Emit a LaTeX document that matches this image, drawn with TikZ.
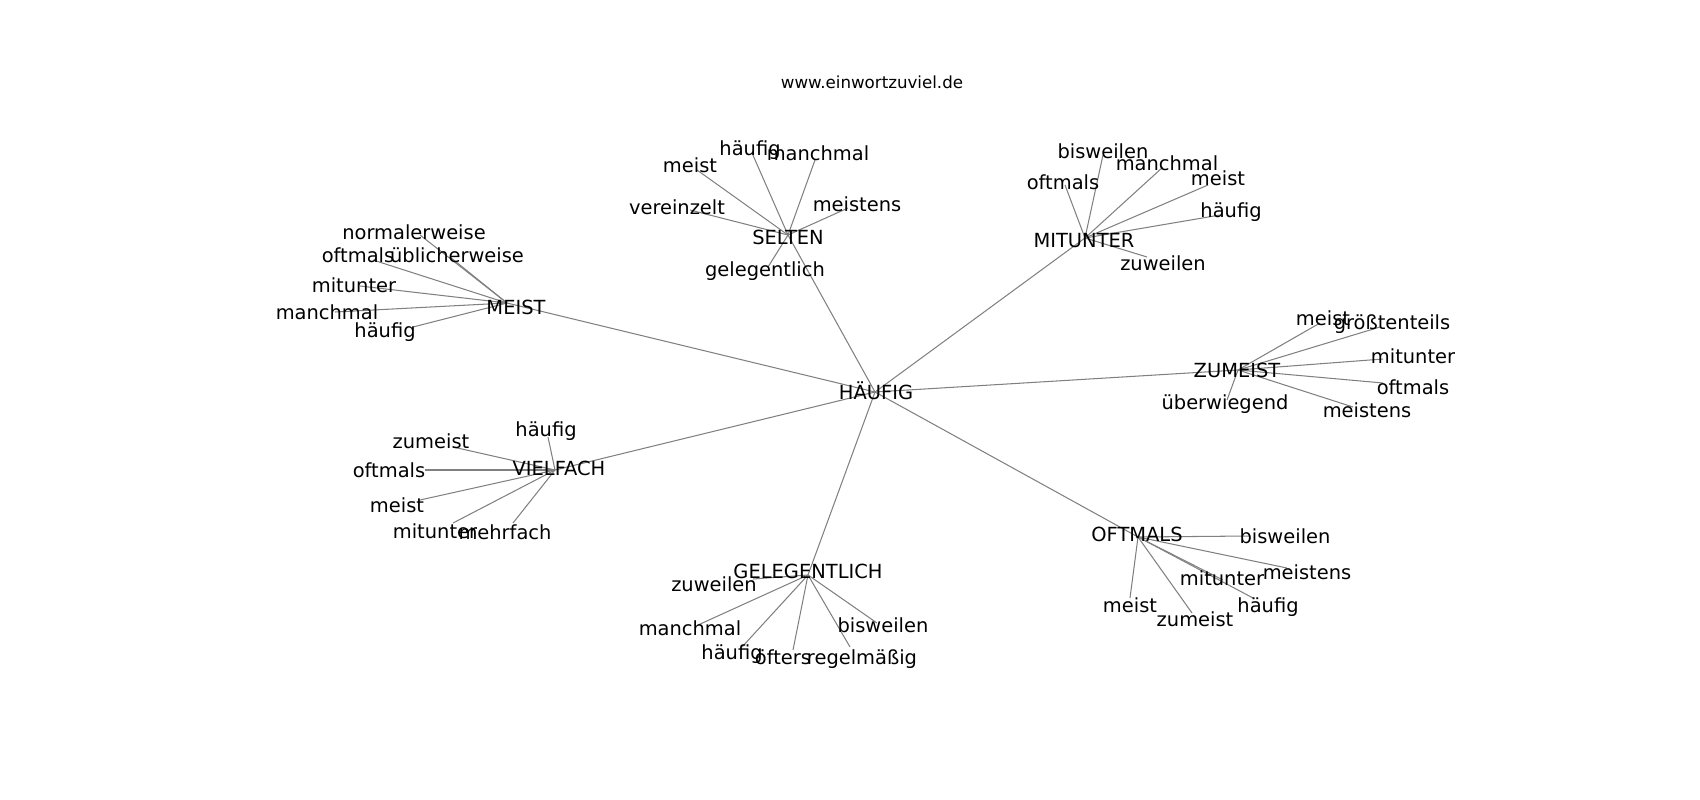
\documentclass[tikz,border=0pt]{standalone}
\usepackage{fontspec}
\setmainfont{DejaVu Sans}
\begin{document}
\begin{tikzpicture}[x=0.72bp,y=-0.72bp,
  lbl/.style={font=\fontsize{14bp}{17bp}\selectfont, inner sep=0pt, text height=10.6bp, text depth=3.2bp, anchor=center, yshift=-1.8bp},
  ttl/.style={font=\fontsize{12bp}{14bp}\selectfont, inner sep=0pt, anchor=center},
  edge/.style={draw=black!50, line width=0.75bp}]
\useasboundingbox (0,0) rectangle (1700,800);
\node[ttl] (title) at (872,82) {www.einwortzuviel.de};
% hubs
\coordinate (h) at (875,392);
\coordinate (m) at (507,303);
\coordinate (s) at (788,235);
\coordinate (mi) at (1085,238);
\coordinate (z) at (1238,370);
\coordinate (o) at (1138,537);
\coordinate (g) at (808,575);
\coordinate (v) at (555,470);
% leaf end points
\coordinate (m1) at (420,235); \coordinate (m2) at (450,257); \coordinate (m3) at (373,260);
\coordinate (m4) at (360,286); \coordinate (m5) at (335,312); \coordinate (m6) at (413,327);
\coordinate (s1) at (752,153); \coordinate (s2) at (815,160); \coordinate (s3) at (697,170);
\coordinate (s4) at (690,210); \coordinate (s5) at (848,208); \coordinate (s6) at (768,267);
\coordinate (mi1) at (1103,155); \coordinate (mi2) at (1163,167); \coordinate (mi3) at (1065,185);
\coordinate (mi4) at (1208,185); \coordinate (mi5) at (1220,215); \coordinate (mi6) at (1147,257);
\coordinate (z1) at (1320,323); \coordinate (z2) at (1380,327); \coordinate (z3) at (1383,359);
\coordinate (z4) at (1383,383); \coordinate (z5) at (1353,407); \coordinate (z6) at (1227,400);
\coordinate (o1) at (1250,536); \coordinate (o2) at (1287,568); \coordinate (o3) at (1223,580);
\coordinate (o4) at (1253,598); \coordinate (o5) at (1130,598); \coordinate (o6) at (1192,613);
\coordinate (g1) at (753,579); \coordinate (g2) at (698,625); \coordinate (g3) at (742,647);
\coordinate (g4) at (793,650); \coordinate (g5) at (850,647); \coordinate (g6) at (877,623);
\coordinate (v1) at (548,437); \coordinate (v2) at (453,447); \coordinate (v3) at (425,470);
\coordinate (v4) at (420,500); \coordinate (v5) at (453,523); \coordinate (v6) at (513,523);
% edges
\foreach \a in {m,s,mi,z,o,g,v} \draw[edge] (h) -- (\a);
\foreach \i in {1,...,6} {
  \draw[edge] (m) -- (m\i);
  \draw[edge] (s) -- (s\i);
  \draw[edge] (mi) -- (mi\i);
  \draw[edge] (z) -- (z\i);
  \draw[edge] (o) -- (o\i);
  \draw[edge] (g) -- (g\i);
  \draw[edge] (v) -- (v\i);
}
% hub labels
\node[lbl] (ht) at (876,392) {HÄUFIG};
\node[lbl] (mt) at (516,307) {MEIST};
\node[lbl] (st) at (788,237) {SELTEN};
\node[lbl] (mit) at (1084,240) {MITUNTER};
\node[lbl] (zt) at (1237,370) {ZUMEIST};
\node[lbl] (ot) at (1137,534) {OFTMALS};
\node[lbl] (gt) at (808,571) {GELEGENTLICH};
\node[lbl] (vt) at (559,468) {VIELFACH};
% leaf labels
\node[lbl] (m1t) at (414,232) {normalerweise};
\node[lbl] (m2t) at (457,255) {üblicherweise};
\node[lbl] (m3t) at (358,255) {oftmals};
\node[lbl] (m4t) at (354,285) {mitunter};
\node[lbl] (m5t) at (327,312) {manchmal};
\node[lbl] (m6t) at (385,330) {häufig};
\node[lbl] (s1t) at (750,148) {häufig};
\node[lbl] (s2t) at (818,153) {manchmal};
\node[lbl] (s3t) at (690,165) {meist};
\node[lbl] (s4t) at (677,207) {vereinzelt};
\node[lbl] (s5t) at (857,204) {meistens};
\node[lbl] (s6t) at (765,269) {gelegentlich};
\node[lbl] (mi1t) at (1103,151) {bisweilen};
\node[lbl] (mi2t) at (1167,163) {manchmal};
\node[lbl] (mi3t) at (1063,182) {oftmals};
\node[lbl] (mi4t) at (1218,178) {meist};
\node[lbl] (mi5t) at (1231,210) {häufig};
\node[lbl] (mi6t) at (1163,263) {zuweilen};
\node[lbl] (z1t) at (1323,318) {meist};
\node[lbl] (z2t) at (1392,322) {größtenteils};
\node[lbl] (z3t) at (1413,356) {mitunter};
\node[lbl] (z4t) at (1413,387) {oftmals};
\node[lbl] (z5t) at (1367,410) {meistens};
\node[lbl] (z6t) at (1225,402) {überwiegend};
\node[lbl] (o1t) at (1285,536) {bisweilen};
\node[lbl] (o2t) at (1307,572) {meistens};
\node[lbl] (o3t) at (1222,578) {mitunter};
\node[lbl] (o4t) at (1268,605) {häufig};
\node[lbl] (o5t) at (1130,605) {meist};
\node[lbl] (o6t) at (1195,619) {zumeist};
\node[lbl] (g1t) at (714,584) {zuweilen};
\node[lbl] (g2t) at (690,628) {manchmal};
\node[lbl] (g3t) at (732,652) {häufig};
\node[lbl] (g4t) at (783,657) {öfters};
\node[lbl] (g5t) at (862,657) {regelmäßig};
\node[lbl] (g6t) at (883,625) {bisweilen};
\node[lbl] (v1t) at (546,429) {häufig};
\node[lbl] (v2t) at (431,441) {zumeist};
\node[lbl] (v3t) at (389,470) {oftmals};
\node[lbl] (v4t) at (397,505) {meist};
\node[lbl] (v5t) at (435,531) {mitunter};
\node[lbl] (v6t) at (505,532) {mehrfach};
\end{tikzpicture}
\end{document}
